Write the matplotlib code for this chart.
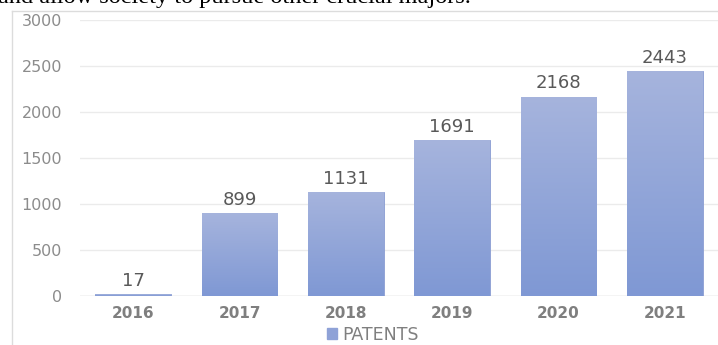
import matplotlib.pyplot as plt
import numpy as np
from matplotlib.patches import Rectangle
from matplotlib.lines import Line2D

years = ["2016", "2017", "2018", "2019", "2020", "2021"]
patents = [17, 899, 1131, 1691, 2168, 2443]
yticks = [0, 500, 1000, 1500, 2000, 2500, 3000]
caption = "and allow society to pursue other crucial majors."

plt.rcParams["font.family"] = ["DejaVu Sans"]

W, H = 718, 345
fig = plt.figure(figsize=(W / 100, H / 100), dpi=100)

# cut-off line of body text above the chart
fig.text(-2 / W, 1 - 3 / H, caption, family="Liberation Serif", fontsize=17.5,
         color="black", va="baseline", ha="left")

# outer frame of the embedded chart
fig.add_artist(Line2D([12 / W, 12 / W], [0, 1 - 11 / H], color="#dcdcdc", lw=1.0))
fig.add_artist(Line2D([12 / W, 1], [1 - 11 / H, 1 - 11 / H], color="#dcdcdc", lw=1.0))

ax = fig.add_axes([80 / W, 49 / H, (W - 80) / W, 276 / H])
x = np.arange(len(years))
bars = ax.bar(x, patents, width=0.71, color="#94a6d8", edgecolor="#8a9dd2",
              linewidth=0.6, zorder=3, label="PATENTS")

# vertical gradient inside each bar
grad = np.linspace(0, 1, 256).reshape(-1, 1)
cmap = plt.matplotlib.colors.LinearSegmentedColormap.from_list(
    "g", ["#7f98d4", "#a6b4dd"])
for b in bars:
    x0, w, h = b.get_x(), b.get_width(), b.get_height()
    im = ax.imshow(grad, cmap=cmap, origin="lower", aspect="auto",
                   extent=[x0, x0 + w, 0, max(h, 1)], zorder=3.5)
    im.set_clip_path(b)

for xi, v in zip(x, patents):
    ax.text(xi, v + 45, str(v), ha="center", va="bottom", fontsize=13,
            color="#595959")

ax.set_xlim(-0.5, len(years) - 0.5)
ax.set_ylim(0, 3000)
ax.set_yticks(yticks)
ax.set_yticklabels([str(t) for t in yticks], fontsize=11.5, color="#8c8c8c")
ax.set_xticks(x)
ax.set_xticklabels(years, fontsize=11, fontweight="bold", color="#7f7f7f")
ax.tick_params(length=0)
ax.tick_params(axis="y", pad=13)
ax.tick_params(axis="x", pad=7)
ax.grid(axis="y", color="#ebebeb", lw=1.0, zorder=0)
for s in ax.spines.values():
    s.set_visible(False)
ax.axhline(0, color="#d9d9d9", lw=1.0, zorder=2)

handle = Rectangle((0, 0), 1, 1, color="#8fa2d7")
fig.legend([handle], ["PATENTS"], loc="center", bbox_to_anchor=(373 / W, 1 - 335 / H),
           frameon=False, fontsize=12.5, handlelength=0.6, handleheight=0.6,
           handletextpad=0.3, labelcolor="#7f7f7f")

fig.savefig("out.png", dpi=100)
